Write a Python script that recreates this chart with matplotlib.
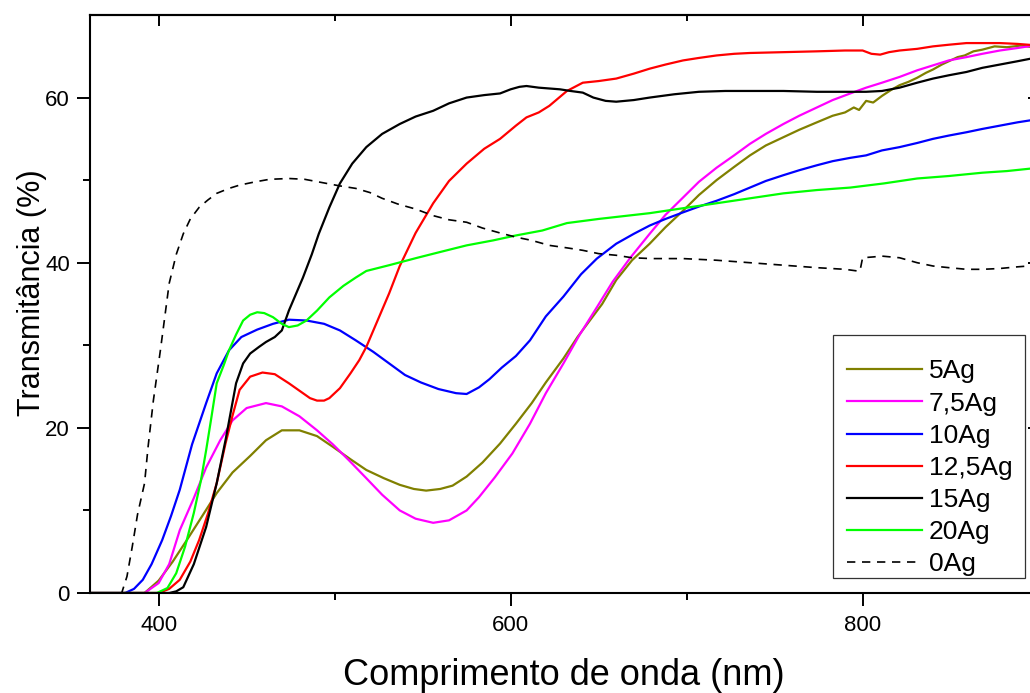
import numpy as np
import matplotlib
matplotlib.use("Agg")
import matplotlib.pyplot as plt

plt.rcParams['font.family'] = ['Liberation Sans', 'DejaVu Sans']

### spectra (wavelength in nm, transmittance in %)
wl_5 = [361, 392, 400, 408, 416, 425, 433, 442, 452, 461, 470, 480, 490, 499, 509, 518, 528, 537, 545, 552,
        560, 567, 575, 584, 594, 603, 612, 620, 630, 638, 645, 652, 660, 669, 679, 688, 698, 707, 717, 727,
        736, 745, 755, 764, 774, 783, 790, 795, 798, 802, 806, 811, 816, 821, 826, 831, 836, 840, 845, 849,
        854, 858, 863, 868, 875, 882, 890, 900]
t_5 = [0, 0, 1.5, 3.8, 6.4, 9.4, 12.1, 14.6, 16.6, 18.5, 19.7, 19.7, 19.0, 17.7, 16.2, 14.9, 13.9, 13.1, 12.6, 12.4,
       12.6, 13.0, 14.1, 15.8, 18.1, 20.5, 23.0, 25.5, 28.4, 31.0, 33.0, 35.0, 37.9, 40.3, 42.3, 44.3, 46.3, 48.2, 50.0, 51.6,
       53.0, 54.2, 55.2, 56.1, 57.0, 57.8, 58.2, 58.8, 58.5, 59.6, 59.4, 60.2, 60.9, 61.5, 61.9, 62.4, 63.0, 63.4, 64.0, 64.4,
       64.9, 65.1, 65.6, 65.8, 66.2, 66.1, 66.3, 66.0]

wl_75 = [361, 392, 400, 406, 412, 420, 427, 435, 442, 450, 461, 470, 480, 490, 499, 508, 518, 527, 537, 546,
         556, 565, 575, 582, 591, 601, 611, 620, 630, 639, 649, 658, 668, 679, 688, 698, 707, 717, 727, 736,
         745, 755, 764, 774, 783, 793, 802, 811, 821, 831, 840, 849, 859, 868, 878, 888, 900]
t_75 = [0, 0, 1.2, 3.5, 7.6, 11.5, 15.2, 18.5, 20.9, 22.4, 23.0, 22.6, 21.4, 19.7, 18.0, 16.1, 13.9, 11.9, 10.0, 9.0,
        8.5, 8.8, 10.0, 11.6, 14.0, 16.9, 20.5, 24.2, 27.8, 31.2, 34.6, 37.7, 40.6, 43.5, 45.8, 47.9, 49.8, 51.5, 53.0, 54.4,
        55.6, 56.8, 57.8, 58.8, 59.7, 60.5, 61.2, 61.8, 62.5, 63.3, 63.9, 64.5, 64.9, 65.3, 65.7, 66.0, 66.4]

wl_10 = [361, 381, 386, 391, 396, 402, 407, 412, 419, 427, 433, 440, 447, 456, 465, 474, 484, 494, 503, 512,
         522, 531, 540, 549, 559, 569, 575, 582, 588, 595, 603, 611, 620, 630, 640, 649, 660, 670, 679, 688,
         698, 707, 717, 727, 736, 745, 755, 764, 774, 783, 793, 802, 811, 821, 831, 840, 849, 859, 868, 878,
         888, 900]
t_10 = [0, 0, 0.5, 1.6, 3.5, 6.4, 9.3, 12.5, 18.0, 23.0, 26.6, 29.4, 31.0, 31.9, 32.6, 33.1, 33.0, 32.6, 31.8, 30.6,
        29.2, 27.8, 26.4, 25.5, 24.7, 24.2, 24.1, 24.9, 25.9, 27.3, 28.7, 30.6, 33.5, 35.9, 38.6, 40.5, 42.3, 43.5, 44.5, 45.3,
        46.1, 46.8, 47.5, 48.3, 49.1, 49.9, 50.6, 51.2, 51.8, 52.3, 52.7, 53.0, 53.6, 54.0, 54.5, 55.0, 55.4, 55.8, 56.2, 56.6,
        57.0, 57.4]

wl_125 = [361, 400, 406, 412, 418, 423, 428, 433, 438, 442, 446, 452, 459, 466, 474, 482, 486, 490, 494, 497,
          503, 509, 514, 518, 524, 531, 537, 546, 556, 565, 575, 585, 594, 603, 609, 616, 622, 632, 641, 650,
          660, 670, 679, 688, 698, 707, 717, 727, 736, 755, 774, 790, 800, 805, 810, 815, 821, 831, 840, 849,
          859, 868, 878, 888, 900]
t_125 = [0, 0, 0.5, 1.6, 3.8, 6.4, 9.6, 13.3, 18.1, 21.5, 24.6, 26.2, 26.7, 26.5, 25.4, 24.2, 23.6, 23.3, 23.3, 23.6,
         24.8, 26.6, 28.2, 29.8, 32.8, 36.3, 39.6, 43.6, 47.2, 49.9, 52.0, 53.8, 55.0, 56.6, 57.6, 58.2, 59.0, 60.8, 61.8, 62.0,
         62.3, 62.9, 63.5, 64.0, 64.5, 64.8, 65.1, 65.3, 65.4, 65.5, 65.6, 65.7, 65.7, 65.3, 65.2, 65.5, 65.7, 65.9, 66.2, 66.4,
         66.6, 66.6, 66.6, 66.5, 66.3]

wl_15 = [361, 406, 410, 414, 420, 427, 433, 438, 444, 448, 452, 457, 461, 466, 470, 474, 478, 482, 487, 491,
         497, 503, 510, 518, 527, 537, 546, 556, 565, 575, 585, 594, 600, 605, 609, 616, 622, 628, 634, 641,
         647, 654, 660, 670, 679, 693, 707, 722, 736, 755, 774, 788, 802, 811, 821, 831, 840, 849, 859, 868,
         878, 888, 900]
t_15 = [0, 0, 0.2, 0.7, 3.5, 8.0, 13.3, 18.5, 25.4, 27.8, 29.0, 29.8, 30.4, 31.0, 31.8, 34.2, 36.2, 38.2, 41.0, 43.5,
        46.7, 49.6, 52.0, 54.0, 55.6, 56.8, 57.7, 58.4, 59.3, 60.0, 60.3, 60.5, 61.0, 61.3, 61.4, 61.2, 61.1, 61.0, 60.8, 60.6,
        60.0, 59.6, 59.5, 59.7, 60.0, 60.4, 60.7, 60.8, 60.8, 60.8, 60.7, 60.7, 60.7, 60.8, 61.2, 61.8, 62.3, 62.7, 63.1, 63.6,
        64.0, 64.4, 64.9]

wl_20 = [361, 399, 405, 410, 415, 420, 424, 427, 430, 433, 437, 440, 444, 448, 452, 456, 460, 465, 470, 474,
         479, 484, 490, 497, 505, 512, 518, 531, 547, 560, 575, 590, 603, 618, 632, 650, 679, 698, 717, 736,
         755, 774, 793, 812, 831, 849, 868, 882, 900]
t_20 = [0, 0, 0.6, 2.4, 5.6, 9.7, 13.6, 17.3, 21.3, 25.4, 27.6, 29.4, 31.3, 33.0, 33.7, 34.0, 33.9, 33.4, 32.6, 32.2,
        32.4, 33.0, 34.2, 35.8, 37.2, 38.2, 39.0, 39.7, 40.6, 41.3, 42.1, 42.7, 43.3, 43.9, 44.8, 45.3, 46.0, 46.6, 47.2, 47.8,
        48.4, 48.8, 49.1, 49.6, 50.2, 50.5, 50.9, 51.1, 51.5]

wl_0 = [361, 379, 382, 385, 388, 392, 394, 397, 401, 406, 410, 414, 418, 423, 428, 433, 440, 446, 455, 463,
        474, 483, 493, 503, 512, 520, 527, 536, 546, 556, 565, 575, 584, 594, 603, 612, 622, 632, 641, 650,
        660, 669, 680, 698, 717, 736, 755, 774, 790, 797, 798.5, 800, 806, 811, 816, 821, 826, 831, 840, 849,
        859, 868, 878, 888, 900]
t_0 = [0, 0, 2.0, 5.6, 9.5, 13.3, 17.7, 23.3, 29.4, 37.5, 41.0, 43.5, 45.3, 46.7, 47.6, 48.4, 49.0, 49.4, 49.8, 50.1,
       50.2, 50.1, 49.7, 49.3, 49.0, 48.5, 47.8, 47.1, 46.5, 45.7, 45.2, 44.9, 44.2, 43.6, 43.1, 42.7, 42.1, 41.8, 41.5, 41.1,
       40.9, 40.6, 40.5, 40.5, 40.3, 40.0, 39.7, 39.4, 39.2, 39.0, 39.0, 40.6, 40.7, 40.8, 40.7, 40.6, 40.3, 40.0, 39.6, 39.4,
       39.2, 39.2, 39.3, 39.5, 39.7]

labels = ['5Ag', '7,5Ag', '10Ag', '12,5Ag', '15Ag', '20Ag', '0Ag']

W, H = 1030, 693
fig = plt.figure(figsize=(W / 100, H / 100), dpi=100)
# axes runs a bit past the right edge of the picture, like the original
ax = fig.add_axes([90 / W, 100 / H, 948.6 / W, 578 / H])

ax.plot(wl_5, t_5, color='#808000', lw=1.6, label=labels[0])
ax.plot(wl_75, t_75, color='#FF00FF', lw=1.6, label=labels[1])
ax.plot(wl_10, t_10, color='#0000FF', lw=1.6, label=labels[2])
ax.plot(wl_125, t_125, color='#FF0000', lw=1.6, label=labels[3])
ax.plot(wl_15, t_15, color='black', lw=1.6, label=labels[4])
ax.plot(wl_20, t_20, color='#00FF00', lw=1.6, label=labels[5])
ax.plot(wl_0, t_0, color='black', lw=1.2, ls=(0, (5, 4)), label=labels[6])

ax.set_xlim(361, 900)
ax.set_ylim(0, 70)
ax.set_xticks([400, 600, 800])
ax.set_xticks([500, 700], minor=True)
ax.set_yticks([0, 20, 40, 60])
ax.set_yticks([10, 30, 50], minor=True)
ax.tick_params(which='major', direction='out', length=9.5, width=1.4, labelsize=16, pad=6)
ax.tick_params(which='minor', direction='out', length=5, width=1.4)
ax.tick_params(axis='y', which='major', pad=5)
for s in ax.spines.values():
    s.set_linewidth(1.5)

# inward ticks on top and right
top = ax.secondary_xaxis('top')
top.set_xticks([400, 600, 800])
top.set_xticks([500, 700], minor=True)
top.tick_params(which='major', direction='in', length=8, width=1.4, labeltop=False)
top.tick_params(which='minor', direction='in', length=4, width=1.4)
top.spines['top'].set_linewidth(1.5)
right = ax.secondary_yaxis('right')
right.set_yticks([0, 20, 40, 60])
right.set_yticks([10, 30, 50], minor=True)
right.tick_params(which='major', direction='in', length=8, width=1.4, labelright=False)
right.tick_params(which='minor', direction='in', length=4, width=1.4)

ax.set_xlabel('Comprimento de onda (nm)', fontsize=26, labelpad=16)
ax.set_ylabel('Transmitância (%)', fontsize=22)
ax.yaxis.set_label_coords(-0.0453, 0.52)

# legend entries without frame, box drawn separately to match the original
leg = ax.legend(loc='upper right', bbox_to_anchor=(1025 / W, 1 - 347 / H), bbox_transform=fig.transFigure,
                borderaxespad=0, fontsize=19, handlelength=2.84, handletextpad=0.27, labelspacing=0.31,
                frameon=False, borderpad=0.47)
fig.add_artist(plt.Rectangle((833 / W, 1 - 578 / H), 192 / W, 243 / H, transform=fig.transFigure,
                             fill=False, ec='#333333', lw=0.9))

fig.savefig('out.png', dpi=100)
